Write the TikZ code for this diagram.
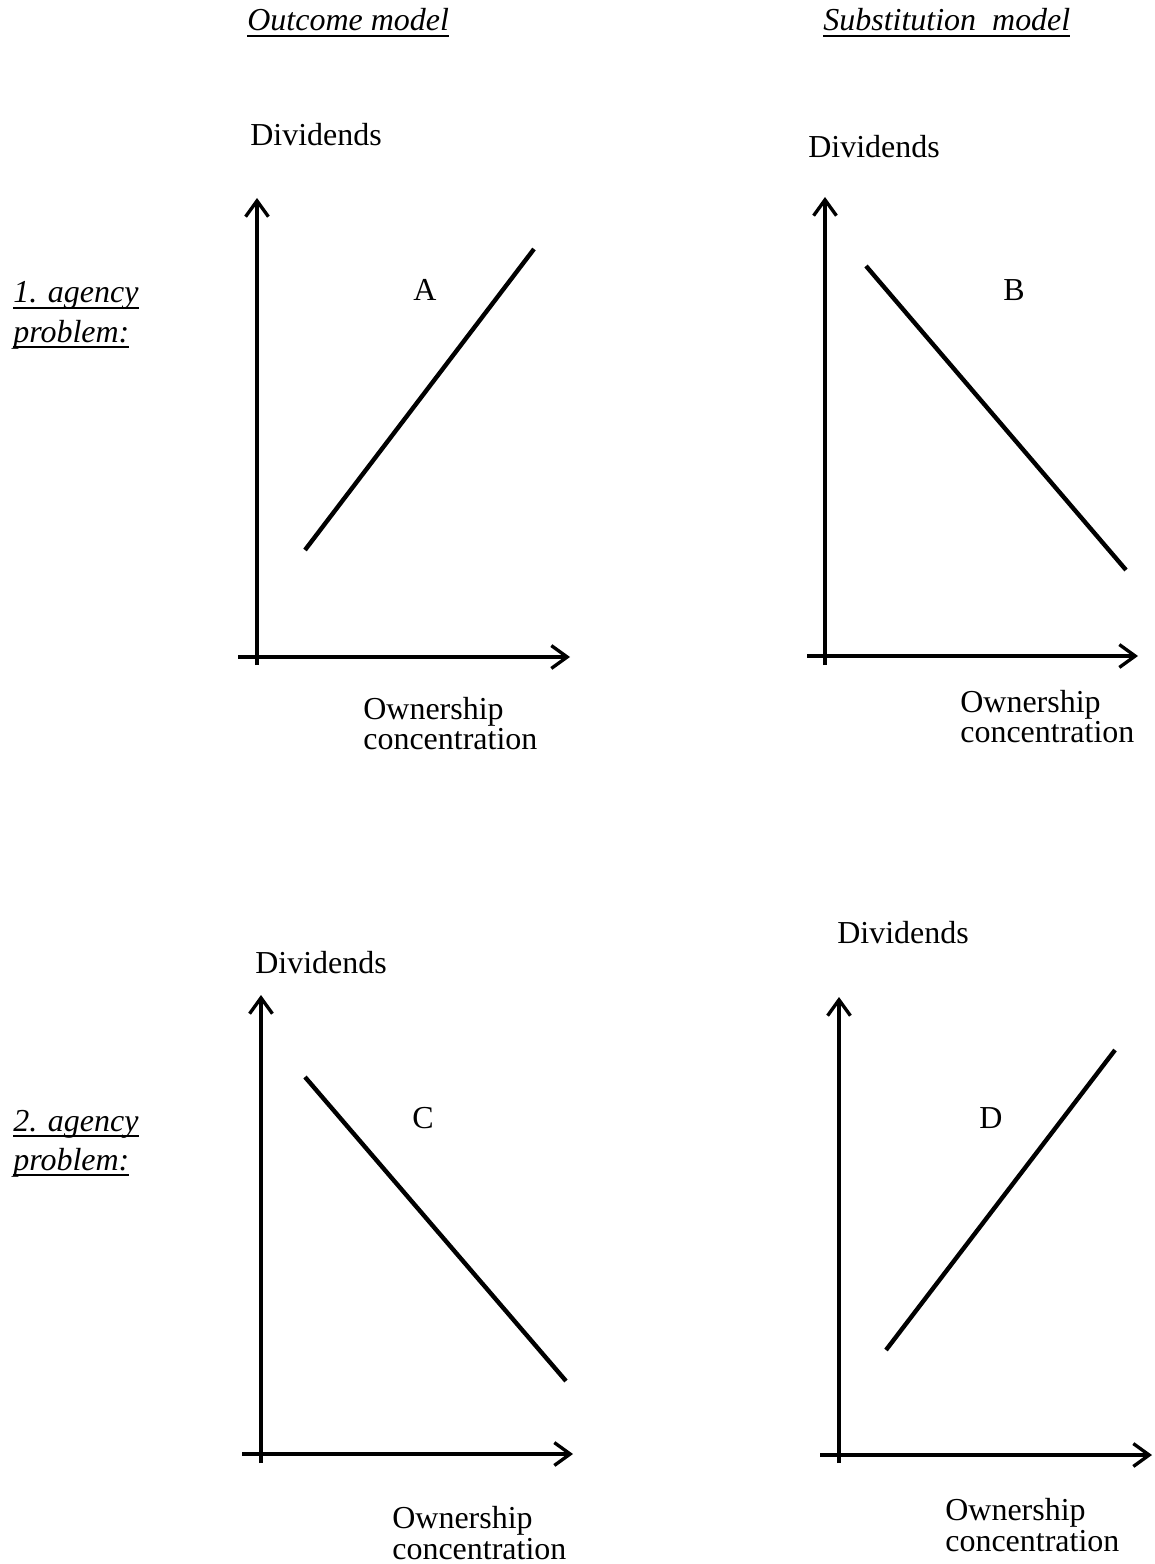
\documentclass[tikz,border=0pt]{standalone}
\usepackage{fontspec}
\setmainfont{Liberation Serif}
\usetikzlibrary{arrows.meta}
\newcommand{\undl}[1]{\setbox0=\hbox{#1}\rlap{\vrule height -2.0pt depth 3.3pt width \wd0}\box0}

\begin{document}
\begin{tikzpicture}[x=0.02cm,y=-0.02cm,
  axis/.style={line width=1.9pt,-{Straight Barb[length=9pt,width=13pt]}},
  trend/.style={line width=2.5pt},
  every node/.style={font=\fontsize{18.2}{22}\selectfont,
  inner sep=0pt,anchor=base west},
  letter/.style={anchor=base}]

  \useasboundingbox (0,0) rectangle (1155,1564);

  % headings of the two columns and the two rows
  \node (outcome) at (247,31) {\undl{\textit{Outcome model}}};
  \node (subst) at (823,31) {\undl{\textit{Substitution\ \ model}}};
  \node (agency1) at (13,303) {\undl{\textit{1. agency}}};
  \node (problem1) at (13,342) {\undl{\textit{problem:}}};
  \node (agency2) at (13,1131) {\undl{\textit{2. agency}}};
  \node (problem2) at (13,1170) {\undl{\textit{problem:}}};

  % panel A
  \coordinate (yA0) at (257,665);
  \coordinate (yA) at (257,198);
  \coordinate (xA0) at (238,657);
  \coordinate (xA) at (570,657);
  \coordinate (lA1) at (305,550);
  \coordinate (lA2) at (534,249);
  \draw[axis] (yA0) -- (yA);
  \draw[axis] (xA0) -- (xA);
  \draw[trend] (lA1) -- (lA2);
  \node (divA) at (250,146) {Dividends};
  \node[letter] (A) at (425,300) {A};
  \node (ownA) at (363,719) {Ownership};
  \node (conA) at (363,749) {concentration};

  % panel B
  \coordinate (yB0) at (825,665);
  \coordinate (yB) at (825,197);
  \coordinate (xB0) at (807,656);
  \coordinate (xB) at (1138,656);
  \coordinate (lB1) at (866,266);
  \coordinate (lB2) at (1126,570);
  \draw[axis] (yB0) -- (yB);
  \draw[axis] (xB0) -- (xB);
  \draw[trend] (lB1) -- (lB2);
  \node (divB) at (808,158) {Dividends};
  \node[letter] (B) at (1014,300) {B};
  \node (ownB) at (960,712) {Ownership};
  \node (conB) at (960,742) {concentration};

  % panel C
  \coordinate (yC0) at (261,1463);
  \coordinate (yC) at (261,995);
  \coordinate (xC0) at (242,1454);
  \coordinate (xC) at (573,1454);
  \coordinate (lC1) at (305,1077);
  \coordinate (lC2) at (566,1381);
  \draw[axis] (yC0) -- (yC);
  \draw[axis] (xC0) -- (xC);
  \draw[trend] (lC1) -- (lC2);
  \node (divC) at (255,973) {Dividends};
  \node[letter] (C) at (423,1128) {C};
  \node (ownC) at (392,1528) {Ownership};
  \node (conC) at (392,1559) {concentration};

  % panel D
  \coordinate (yD0) at (839,1463);
  \coordinate (yD) at (839,997);
  \coordinate (xD0) at (820,1455);
  \coordinate (xD) at (1152,1455);
  \coordinate (lD1) at (886,1350);
  \coordinate (lD2) at (1115,1050);
  \draw[axis] (yD0) -- (yD);
  \draw[axis] (xD0) -- (xD);
  \draw[trend] (lD1) -- (lD2);
  \node (divD) at (837,943) {Dividends};
  \node[letter] (D) at (991,1128) {D};
  \node (ownD) at (945,1520) {Ownership};
  \node (conD) at (945,1551) {concentration};

\end{tikzpicture}
\end{document}
